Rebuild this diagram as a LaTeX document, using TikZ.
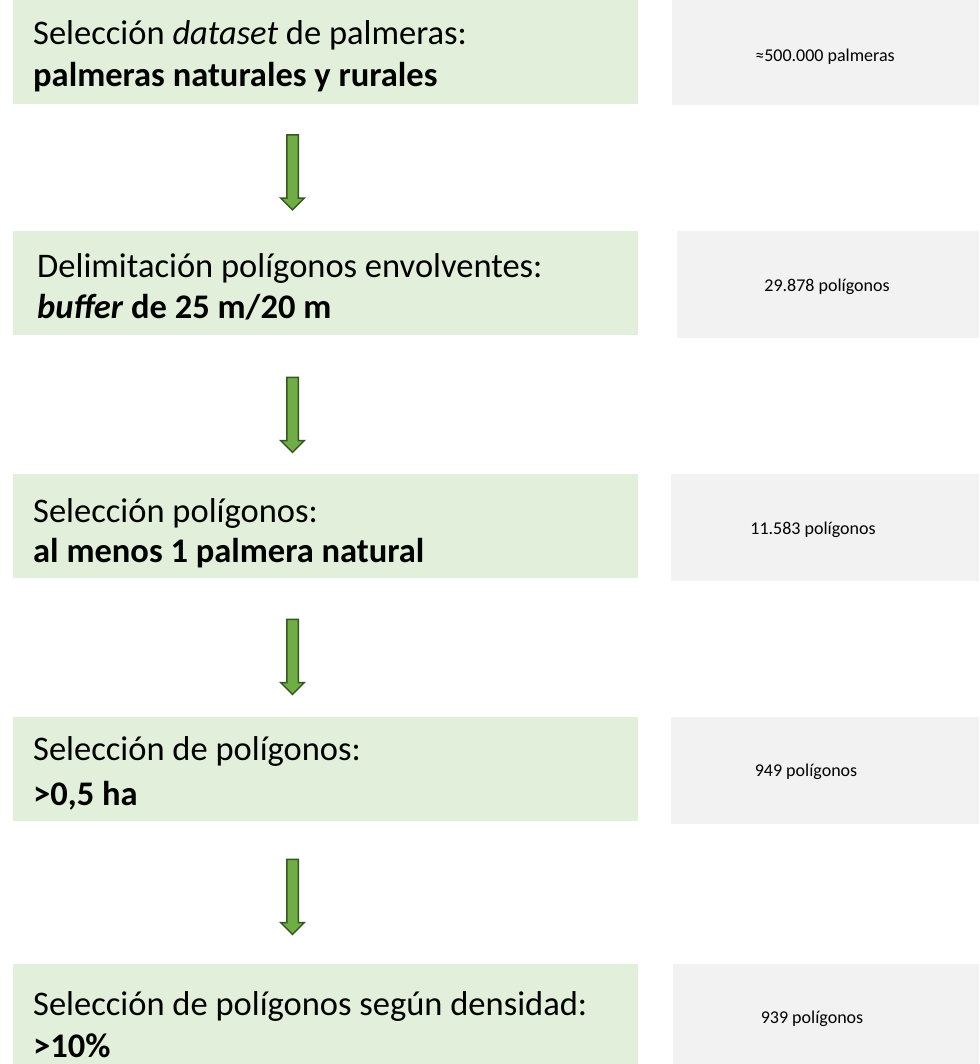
\documentclass[tikz,border=0pt]{standalone}
\usepackage{fontspec}
\setmainfont{Carlito}
\usetikzlibrary{shapes.arrows}
\definecolor{boxgreen}{HTML}{E2EFDA}
\definecolor{boxgray}{HTML}{F2F2F2}
\definecolor{arrowfill}{HTML}{70AD47}
\definecolor{arrowline}{HTML}{385723}
\begin{document}
\begin{tikzpicture}[x=1pt,y=-1pt,
  stepbox/.style={fill=boxgreen, draw=none, anchor=north west, inner sep=0pt, minimum width=625pt, minimum height=104pt},
  countbox/.style={fill=boxgray, draw=none, anchor=north west, inner sep=0pt},
  steptext/.style={anchor=base west, inner sep=0pt, font=\fontsize{34.5}{41}\selectfont},
  counttext/.style={anchor=center, inner sep=0pt, font=\fontsize{18}{22}\selectfont},
  bigarrow/.style={single arrow, rotate=-90, minimum height=75pt, inner xsep=0pt, inner ysep=5pt,
    single arrow head extend=6pt, fill=arrowfill, draw=arrowline, line width=1.5pt}]
\useasboundingbox (0,0) rectangle (979,1064);
\clip (0,0) rectangle (979,1064);

% green step boxes
\node[stepbox] (g1) at (13,0) {};
\node[stepbox] (g2) at (13,231) {};
\node[stepbox] (g3) at (13,474) {};
\node[stepbox] (g4) at (13,717) {};
\node[stepbox] (g5) at (13,964) {};

% grey count boxes
\node[countbox, minimum width=307pt, minimum height=105pt] (c1) at (672,0) {};
\node[countbox, minimum width=302pt, minimum height=107pt] (c2) at (677,231) {};
\node[countbox, minimum width=308pt, minimum height=107pt] (c3) at (671,474) {};
\node[countbox, minimum width=308pt, minimum height=107pt] (c4) at (671,717) {};
\node[countbox, minimum width=306pt, minimum height=107pt] (c5) at (673,964) {};

% step texts
\node[steptext] (t1a) at (33,45) {Selección \textit{dataset} de palmeras:};
\node[steptext] (t1b) at (33,87) {\textbf{palmeras naturales y rurales}};
\node[steptext] (t2a) at (37,277) {Delimitación polígonos envolventes:};
\node[steptext] (t2b) at (37,318) {\textbf{\textit{buffer} de 25 m/20 m}};
\node[steptext] (t3a) at (33,522) {Selección polígonos:};
\node[steptext] (t3b) at (33,562) {\textbf{al menos 1 palmera natural}};
\node[steptext] (t4a) at (33,760) {Selección de polígonos:};
\node[steptext] (t4b) at (33,805) {\textbf{>0,5 ha}};
\node[steptext] (t5a) at (33,1015) {Selección de polígonos según densidad:};
\node[steptext] (t5b) at (33,1057) {\textbf{>10\%}};

% count texts
\node[counttext] (n1) at (825,57) {≈500.000 palmeras};
\node[counttext] (n2) at (827,287) {29.878 polígonos};
\node[counttext] (n3) at (813,530) {11.583 polígonos};
\node[counttext] (n4) at (806,772) {949 polígonos};
\node[counttext] (n5) at (812,1019) {939 polígonos};

% block arrows
\node[bigarrow] (a1) at (292.5,169.5) {};
\node[bigarrow] (a2) at (292.5,412) {};
\node[bigarrow] (a3) at (292.5,654) {};
\node[bigarrow] (a4) at (292.5,894) {};
\end{tikzpicture}
\end{document}
